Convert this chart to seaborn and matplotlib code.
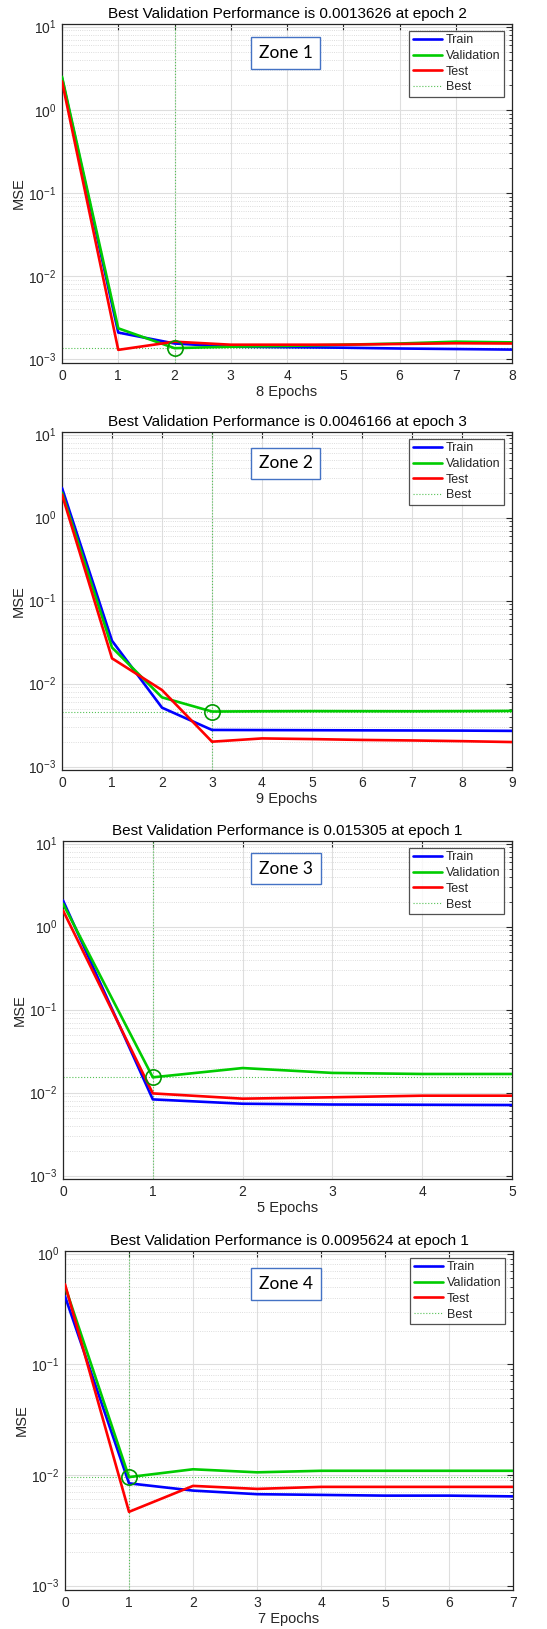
import numpy as np
import pandas as pd
import matplotlib
matplotlib.use("Agg")
import matplotlib.pyplot as plt
from matplotlib.lines import Line2D
from matplotlib.ticker import LogLocator, NullFormatter, FixedLocator
import seaborn as sns

# ---------------- data ----------------
zone_names = ["Zone 1", "Zone 2", "Zone 3", "Zone 4"]
titles = [
    "Best Validation Performance is 0.0013626 at epoch 2",
    "Best Validation Performance is 0.0046166 at epoch 3",
    "Best Validation Performance is 0.015305 at epoch 1",
    "Best Validation Performance is 0.0095624 at epoch 1",
]
xlabels = ["8 Epochs", "9 Epochs", "5 Epochs", "7 Epochs"]
best_epoch = [2, 3, 1, 1]
best_perf = [0.0013626, 0.0046166, 0.015305, 0.0095624]

train_z1 = [2.4, 0.0021, 0.00155, 0.00142, 0.00140, 0.00138, 0.00135, 0.00133, 0.00131]
val_z1 = [2.5, 0.00236, 0.0013626, 0.00142, 0.00145, 0.0015, 0.00155, 0.00163, 0.0016]
test_z1 = [2.2, 0.0013, 0.00163, 0.0015, 0.0015, 0.0015, 0.00153, 0.00156, 0.00155]

train_z2 = [2.28, 0.0329, 0.00514, 0.00277, 0.00276, 0.00275, 0.00274, 0.00273, 0.00272, 0.0027]
val_z2 = [2.0, 0.0273, 0.00684, 0.0046166, 0.00465, 0.00467, 0.00466, 0.00465, 0.00467, 0.0047]
test_z2 = [1.9, 0.0202, 0.00838, 0.0020, 0.00219, 0.00215, 0.0021, 0.00207, 0.00203, 0.00198]

train_z3 = [2.07, 0.0083, 0.00736, 0.0072, 0.00715, 0.0071]
val_z3 = [1.89, 0.015305, 0.0198, 0.0173, 0.0168, 0.0168]
test_z3 = [1.57, 0.0098, 0.00847, 0.0088, 0.0092, 0.0092]

train_z4 = [0.412, 0.0084, 0.00722, 0.0067, 0.0066, 0.0065, 0.0065, 0.0064]
val_z4 = [0.507, 0.0095624, 0.01125, 0.01056, 0.0109, 0.0109, 0.0109, 0.0109]
test_z4 = [0.529, 0.00464, 0.00796, 0.00748, 0.0078, 0.0078, 0.0078, 0.0078]

zones = [
    (train_z1, val_z1, test_z1),
    (train_z2, val_z2, test_z2),
    (train_z3, val_z3, test_z3),
    (train_z4, val_z4, test_z4),
]
ylims = [(10**-3.044, 10**1.032), (10**-3.04, 10**1.032),
         (10**-3.04, 10**1.032), (10**-3.04, 10**0.024)]

# ---------------- style ----------------
sns.set_theme(style="white")
plt.rcParams["font.family"] = ["Liberation Sans", "DejaVu Sans"]
plt.rcParams["mathtext.default"] = "regular"
TXT = "#262626"

W, H = 547, 1629
fig = plt.figure(figsize=(W / 100, H / 100), dpi=100)
fig.patch.set_facecolor("white")

# axes boxes in pixels: left, right, top, bottom
boxes = [(62, 512, 24, 363), (62, 512, 432, 770), (63, 512, 841, 1179), (65, 513, 1251, 1590)]
zone_centers = [(285.7, 52.7), (285.7, 463.5), (285.7, 868.5), (285.7, 1284.0)]

palette = {"Train": "#0000ff", "Validation": "#00cc00", "Test": "#ff0000"}

for i, (l, r, t, b) in enumerate(boxes):
    ax = fig.add_axes([l / W, 1 - b / H, (r - l) / W, (b - t) / H])
    tr, va, te = zones[i]
    n = len(tr)
    df = pd.DataFrame({
        "epoch": list(range(n)) * 3,
        "mse": tr + va + te,
        "set": ["Train"] * n + ["Validation"] * n + ["Test"] * n,
    })
    ax.set_yscale("log")
    sns.lineplot(data=df, x="epoch", y="mse", hue="set", palette=palette,
                 linewidth=1.9, ax=ax, legend=False, zorder=3)
    # best lines
    ax.axvline(best_epoch[i], color="#55c255", linestyle=":", linewidth=0.8, zorder=2)
    ax.axhline(best_perf[i], color="#55c255", linestyle=":", linewidth=0.8, zorder=2)
    ax.plot([best_epoch[i]], [best_perf[i]], marker="o", markersize=11,
            markerfacecolor="none", markeredgecolor="#009900", markeredgewidth=1.2,
            linestyle="none", zorder=5)

    ax.set_xlim(0, n - 1)
    ax.set_ylim(*ylims[i])
    ax.xaxis.set_major_locator(FixedLocator(list(range(n))))
    ax.yaxis.set_major_locator(LogLocator(base=10, numticks=10))
    ax.yaxis.set_minor_locator(LogLocator(base=10, subs=np.arange(2, 10), numticks=20))
    ax.yaxis.set_minor_formatter(NullFormatter())

    ax.grid(True, which="major", color="#dedede", linewidth=0.8, linestyle="-", zorder=0)
    ax.grid(True, which="minor", axis="y", color="#d2d2d2", linewidth=0.6, linestyle=":", zorder=0)
    ax.set_axisbelow(True)

    for sp in ax.spines.values():
        sp.set_color("#262626")
        sp.set_linewidth(0.9)
    ax.tick_params(which="both", direction="in", top=True, right=True,
                   colors=TXT, labelcolor=TXT)
    ax.tick_params(which="major", length=4, width=0.8, labelsize=10, pad=4)
    ax.tick_params(which="minor", length=2, width=0.6)

    ax.set_title(titles[i], fontsize=11, color="black", pad=4)
    ax.set_xlabel(xlabels[i], fontsize=10.5, color=TXT, labelpad=2)
    ax.set_ylabel("MSE", fontsize=10.5, color=TXT, labelpad=2)

    handles = [
        Line2D([], [], color=palette["Train"], linewidth=1.9),
        Line2D([], [], color=palette["Validation"], linewidth=1.9),
        Line2D([], [], color=palette["Test"], linewidth=1.9),
        Line2D([], [], color="#55c255", linestyle=":", linewidth=0.8),
    ]
    axw, axh = r - l, b - t
    leg = ax.legend(handles, ["Train", "Validation", "Test", "Best"],
                    loc="upper right",
                    bbox_to_anchor=(1 - 8 / axw, 1 - 6.5 / axh),
                    borderaxespad=0, fontsize=9, frameon=True, fancybox=False,
                    handlelength=2.3, handletextpad=0.3, labelspacing=0.3,
                    borderpad=0.3)
    leg.get_frame().set_edgecolor("#262626")
    leg.get_frame().set_linewidth(0.9)
    leg.set_zorder(10)
    for txt in leg.get_texts():
        txt.set_color(TXT)

    cx, cy = zone_centers[i]
    fig.text(cx / W, 1 - cy / H, zone_names[i], ha="center", va="center",
             fontsize=12.5, family=["Lato", "DejaVu Sans"], color="black",
             bbox=dict(boxstyle="square,pad=0.45", facecolor="white",
                       edgecolor="#4472c4", linewidth=1.0), zorder=20)

fig.savefig("out.png", dpi=100, facecolor="white")
